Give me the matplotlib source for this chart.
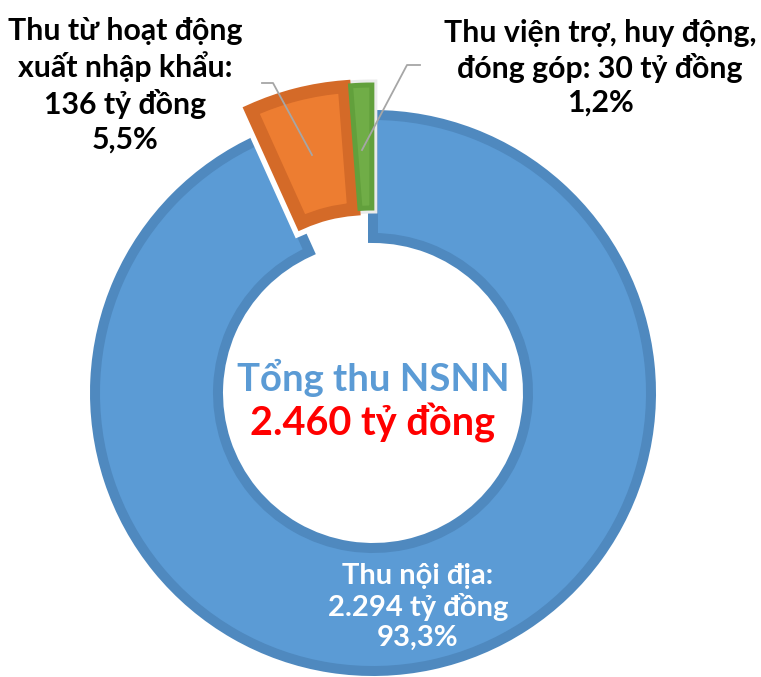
import matplotlib.pyplot as plt

# data
labels = ["Thu nội địa", "Thu từ hoạt động xuất nhập khẩu", "Thu viện trợ, huy động, đóng góp"]
values = [2294, 136, 30]
shares = ["93,3%", "5,5%", "1,2%"]
total_text = "2.460 tỷ đồng"

fills = ["#5B9BD5", "#ED7D31", "#70AD47"]
edges = ["#4F89BF", "#D46A28", "#62A03C"]
band_px = [10, 13, 5]
explode = [0, 30, 30]

W, H = 761, 677
plt.rcParams['font.family'] = ['Lato', 'DejaVu Sans']

fig = plt.figure(figsize=(W / 100, H / 100), dpi=100)
ax = fig.add_axes([0, 0, 1, 1])

cx, cy = 373, H - 393
R, r_in = 278, 155
px2pt = 72 / 100

# white halo under the exploded slices gives the gaps
halo, _ = ax.pie(values, radius=R, center=(cx, cy), startangle=90,
                 counterclock=False, explode=explode, colors=["white"] * 3,
                 wedgeprops=dict(width=R - r_in, edgecolor="white"))
halo[0].set_visible(False)
halo[1].set_linewidth((band_px[1] + 11) * px2pt)
halo[2].set_linewidth((band_px[2] + 6) * px2pt)
halo[2].set_edgecolor("#EBEBEB")

wedges, _ = ax.pie(values, radius=R, center=(cx, cy), startangle=90,
                   counterclock=False, explode=explode, colors=fills,
                   wedgeprops=dict(width=R - r_in))
for w, ec, b in zip(wedges, edges, band_px):
    w.set_edgecolor(ec)
    w.set_linewidth(b * px2pt)
    w.set_joinstyle('miter')
wedges[0].set_zorder(0)

ax.set_xlim(0, W)
ax.set_ylim(0, H)
ax.set_aspect('equal')
ax.axis('off')

# leader lines
ax.plot([262, 273, 312], [H - 83, H - 83, H - 155], color="#A6A6A6", lw=1.3, zorder=5)
ax.plot([420, 407, 362], [H - 65, H - 65, H - 150], color="#A6A6A6", lw=1.3, zorder=5)

fs = 21.8
ax.text(125, H - 85, "Thu từ hoạt động\nxuất nhập khẩu:\n%d tỷ đồng\n%s" % (values[1], shares[1]),
        ha='center', va='center', fontsize=fs, fontweight='bold', linespacing=1.27)
ax.text(600, H - 68, "Thu viện trợ, huy động,\nđóng góp: %d tỷ đồng\n%s" % (values[2], shares[2]),
        ha='center', va='center', fontsize=fs, fontweight='bold', linespacing=1.23)
ax.text(418, H - 607, "Thu nội địa:\n2.294 tỷ đồng\n%s" % shares[0],
        ha='center', va='center', fontsize=21, fontweight='bold', color='white', linespacing=1.18)

ax.text(cx, H - 378, "Tổng thu NSNN", ha='center', va='center', fontsize=27.5,
        fontweight='bold', color="#5B9BD5")
ax.text(cx, H - 423, total_text, ha='center', va='center', fontsize=28.5,
        fontweight='bold', color="#FF0000")

fig.savefig("out.png", dpi=100)
